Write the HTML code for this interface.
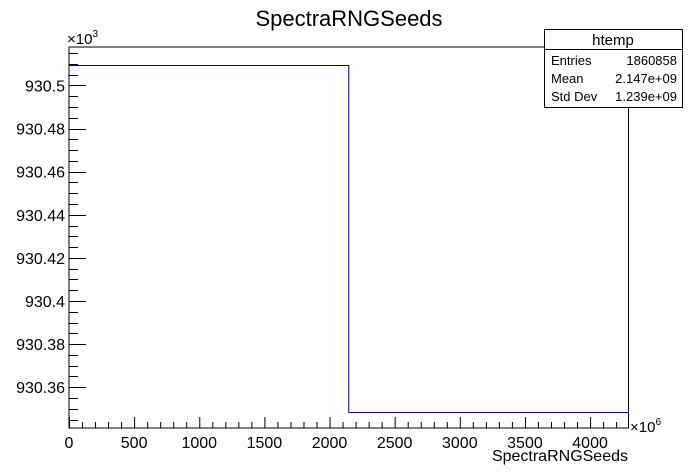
<!DOCTYPE html>
<html><head><meta charset="utf-8"><style>
body{margin:0;background:#fff}
svg{display:block;font-family:"Liberation Sans",Arial,sans-serif}
</style></head><body>
<svg id="c" width="698" height="476">
<text x="349" y="26" font-size="22" text-anchor="middle">SpectraRNGSeeds</text>
<g id="axes"></g>
<path id="hist" fill="none" stroke="#000080" stroke-width="1"/>
<rect x="69" y="47" width="559.5" height="381" fill="none" stroke="#000"/>
<text x="67" y="44" font-size="15">×10<tspan dy="-7" font-size="10">3</tspan></text>
<text x="630" y="432" font-size="15">×10<tspan dy="-7" font-size="10">6</tspan></text>
<text x="628" y="461" font-size="16" text-anchor="end">SpectraRNGSeeds</text>
<g>
<rect x="544.5" y="29.5" width="138" height="78" fill="#fff" stroke="#000"/>
<line x1="544.5" y1="49.5" x2="682.5" y2="49.5" stroke="#000"/>
<text x="613" y="45" font-size="15" text-anchor="middle">htemp</text>
<text x="551" y="65" font-size="13">Entries</text>
<text x="677" y="65" font-size="13" text-anchor="end">1860858</text>
<text x="551" y="83" font-size="13">Mean</text>
<text x="677" y="83" font-size="13" text-anchor="end">2.147e+09</text>
<text x="551" y="101" font-size="13">Std Dev</text>
<text x="677" y="101" font-size="13" text-anchor="end">1.239e+09</text>
</g>
</svg>
<script>
const binEdges=[0,2147.48,4294.97];
const binValues=[930.5094,930.3487];
const xTickLabels=[0,500,1000,1500,2000,2500,3000,3500,4000];
const yTickLabels=[930.36,930.38,930.4,930.42,930.44,930.46,930.48,930.5];
const X0=69,X1=628.5,Y0=428,Y1=47,xMin=0,xMax=4294.97,yMin=930.3411,yMax=930.5178;
const sx=v=>X0+(v-xMin)/(xMax-xMin)*(X1-X0);
const sy=v=>Y0-(v-yMin)/(yMax-yMin)*(Y0-Y1);
const NS="http://www.w3.org/2000/svg";
const ax=document.getElementById('axes');
function ln(x1,y1,x2,y2,name){const l=document.createElementNS(NS,'line');
l.setAttribute('x1',x1);l.setAttribute('y1',y1);l.setAttribute('x2',x2);l.setAttribute('y2',y2);l.setAttribute('stroke','#000');


ax.appendChild(l);}
function tx(x,y,s,anchor,name){const t=document.createElementNS(NS,'text');
t.setAttribute('x',x);t.setAttribute('y',y);t.setAttribute('font-size','16');t.setAttribute('text-anchor',anchor);t.textContent=s;


ax.appendChild(t);}
for(let v=0;v<=xMax;v+=100){const x=sx(v)+0.5;const maj=Math.abs(v%500)<1e-6;ln(x,Y0,x,Y0-(maj?11:6),'x-tick');}
xTickLabels.forEach(v=>tx(sx(v),Y0+20,String(v),'middle','x-tick-label'));
for(let k=0;;k++){const v=930.34+k*0.005;if(v>yMax)break;if(v<yMin)continue;const y=Math.round(sy(v))+0.5;const maj=k%4===0;ln(X0,y,X0+(maj?17:9),y,'y-tick');}
yTickLabels.forEach(v=>tx(X0-4,sy(v)+6,String(v),'end','y-tick-label'));
let d='';
binValues.forEach((v,i)=>{const y=Math.round(sy(v))+0.5;d+=(i===0?'M':' L')+sx(binEdges[i])+','+y+' L'+sx(binEdges[i+1])+','+y;});
document.getElementById('hist').setAttribute('d',d);
</script>
</body></html>
